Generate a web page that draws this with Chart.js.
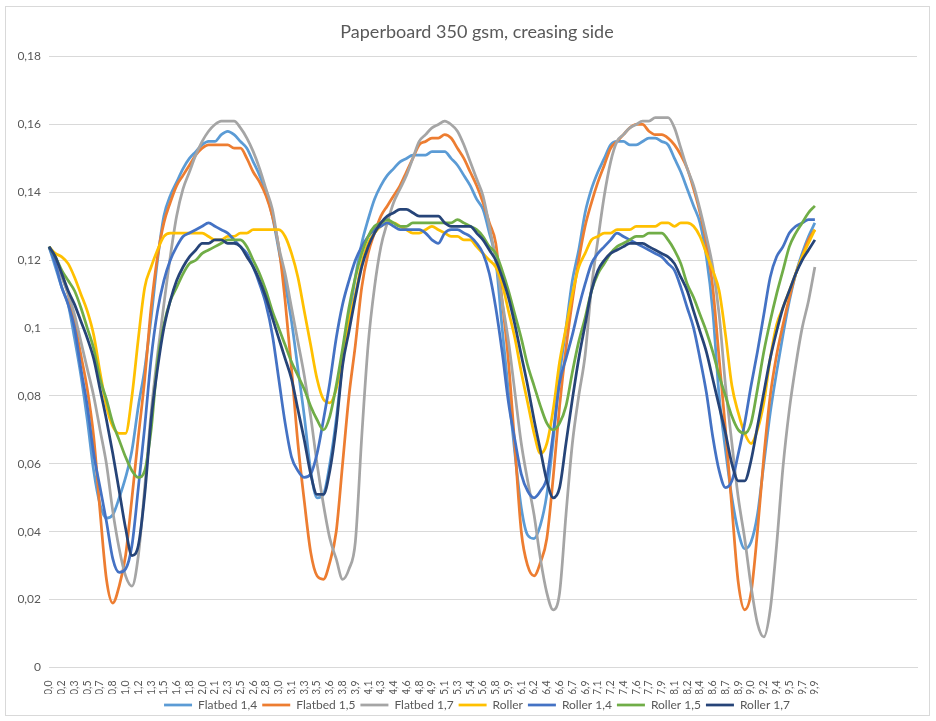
<!DOCTYPE html>
<html>
<head>
<meta charset="utf-8">
<title>Paperboard 350 gsm, creasing side</title>
<script src="https://cdn.jsdelivr.net/npm/chart.js@4.4.1/dist/chart.umd.min.js"></script>
<style>
  html, body { margin: 0; padding: 0; background: #fff; }
  #wrap { position: relative; width: 936px; height: 721px; }
  #frame { position: absolute; left: 5px; top: 6px; width: 925px; height: 710px;
           border: 1px solid #d9d9d9; box-sizing: border-box; pointer-events: none; }
</style>
</head>
<body>
<div id="wrap">
  <canvas id="crease" width="936" height="721"></canvas>
  <div id="frame"></div>
</div>
<script>
// tick labels on the category axis (one every second reading)
const tickLabels = ["0,0","0,2","0,3","0,5","0,7","0,8","1,0","1,2","1,3","1,5","1,6","1,8","2,0","2,1","2,3","2,5","2,6","2,8","3,0","3,1","3,3","3,5","3,6","3,8","3,9","4,1","4,3","4,4","4,6","4,8","4,9","5,1","5,3","5,4","5,6","5,8","5,9","6,1","6,2","6,4","6,6","6,7","6,9","7,1","7,2","7,4","7,6","7,7","7,9","8,1","8,2","8,4","8,6","8,7","8,9","9,0","9,2","9,4","9,5","9,7","9,9"];

const seriesNames = ["Flatbed 1,4", "Flatbed 1,5", "Flatbed 1,7", "Roller", "Roller 1,4", "Roller 1,5", "Roller 1,7"];

// readings, 121 per series
const flatbed14 = [
  .124,.118,.112,.107,.097,.086,.073,.058,.048,.044,
  .045,.050,.056,.064,.077,.088,.103,.120,.133,.139,
  .143,.147,.150,.152,.154,.155,.155,.157,.158,.157,
  .155,.153,.149,.145,.140,.133,.123,.113,.102,.088,
  .074,.058,.050,.051,.060,.073,.090,.103,.115,.125,
  .132,.138,.142,.145,.147,.149,.150,.151,.151,.151,
  .152,.152,.152,.150,.148,.145,.142,.138,.135,.128,
  .120,.100,.081,.063,.047,.039,.038,.042,.051,.067,
  .086,.100,.114,.123,.134,.141,.146,.150,.154,.155,
  .155,.154,.154,.155,.156,.156,.155,.154,.150,.146,
  .141,.136,.131,.121,.105,.080,.064,.050,.040,.035,
  .037,.045,.060,.075,.087,.098,.108,.116,.122,.127,
  .131];
const flatbed15 = [
  .124,.121,.116,.110,.102,.092,.082,.068,.046,.026,
  .019,.024,.033,.050,.068,.085,.106,.121,.131,.137,
  .142,.145,.148,.151,.153,.154,.154,.154,.154,.153,
  .153,.150,.146,.143,.139,.133,.124,.108,.088,.066,
  .049,.034,.027,.026,.031,.040,.060,.080,.095,.112,
  .122,.128,.133,.136,.139,.142,.146,.150,.154,.155,
  .156,.156,.157,.156,.153,.150,.146,.142,.137,.131,
  .125,.108,.090,.065,.040,.030,.027,.031,.038,.056,
  .077,.094,.108,.120,.130,.137,.143,.148,.153,.155,
  .157,.159,.160,.160,.158,.157,.157,.156,.154,.151,
  .147,.141,.134,.125,.112,.091,.070,.047,.025,.017,
  .022,.040,.062,.080,.092,.101,.109,.116,.121,.126,
  .129];
const flatbed17 = [
  .124,.120,.115,.110,.104,.096,.088,.080,.070,.060,
  .046,.035,.027,.024,.033,.053,.075,.092,.107,.121,
  .133,.141,.146,.151,.155,.158,.160,.161,.161,.161,
  .159,.156,.152,.147,.141,.135,.124,.116,.106,.096,
  .086,.074,.060,.048,.038,.032,.026,.029,.037,.068,
  .095,.112,.124,.131,.137,.141,.145,.150,.155,.157,
  .159,.160,.161,.160,.158,.154,.149,.144,.139,.130,
  .120,.108,.096,.081,.066,.055,.045,.032,.022,.017,
  .022,.045,.066,.080,.092,.112,.126,.139,.149,.155,
  .157,.159,.160,.161,.161,.162,.162,.162,.159,.153,
  .147,.142,.135,.127,.118,.104,.083,.066,.050,.038,
  .024,.013,.009,.017,.036,.059,.076,.089,.100,.108,
  .118];
const roller = [
  .124,.122,.121,.119,.115,.110,.105,.098,.087,.077,
  .071,.069,.069,.080,.097,.112,.118,.123,.127,.128,
  .128,.128,.128,.128,.128,.127,.126,.126,.127,.127,
  .128,.128,.129,.129,.129,.129,.129,.127,.122,.115,
  .105,.095,.085,.079,.078,.082,.092,.102,.110,.119,
  .125,.128,.130,.131,.131,.130,.129,.128,.128,.129,
  .130,.129,.128,.127,.127,.126,.126,.124,.122,.120,
  .118,.113,.105,.097,.087,.078,.069,.063,.066,.076,
  .090,.100,.110,.118,.122,.126,.127,.128,.128,.129,
  .129,.129,.130,.130,.130,.130,.131,.131,.130,.131,
  .131,.130,.127,.122,.117,.111,.098,.083,.075,.069,
  .066,.070,.078,.091,.101,.106,.111,.116,.121,.125,
  .129];
const roller14 = [
  .124,.119,.112,.107,.100,.088,.077,.063,.053,.043,
  .032,.028,.029,.036,.053,.071,.091,.105,.114,.120,
  .124,.127,.128,.129,.130,.131,.130,.129,.128,.126,
  .124,.122,.118,.113,.107,.098,.085,.072,.062,.058,
  .056,.057,.063,.073,.084,.097,.107,.114,.120,.124,
  .127,.129,.130,.131,.130,.129,.129,.129,.129,.128,
  .126,.125,.128,.129,.129,.128,.127,.125,.122,.116,
  .106,.093,.078,.067,.057,.052,.050,.052,.056,.069,
  .084,.091,.098,.106,.113,.119,.122,.124,.126,.128,
  .127,.126,.125,.124,.123,.122,.121,.119,.117,.112,
  .106,.100,.091,.081,.068,.058,.053,.055,.063,.072,
  .083,.093,.104,.115,.121,.124,.128,.130,.131,.132,
  .132];
const roller15 = [
  .124,.121,.117,.114,.111,.106,.100,.094,.085,.079,
  .072,.067,.062,.058,.056,.058,.070,.090,.101,.108,
  .112,.116,.119,.120,.122,.123,.124,.125,.126,.126,
  .126,.124,.120,.116,.111,.105,.100,.095,.090,.086,
  .082,.077,.073,.070,.074,.083,.094,.106,.115,.122,
  .127,.130,.131,.132,.131,.130,.130,.131,.131,.131,
  .131,.131,.131,.131,.132,.131,.130,.129,.127,.124,
  .122,.117,.111,.104,.097,.089,.083,.077,.072,.070,
  .072,.077,.087,.096,.103,.111,.116,.119,.122,.124,
  .125,.126,.127,.127,.128,.128,.128,.126,.123,.119,
  .113,.109,.104,.099,.093,.086,.080,.074,.070,.069,
  .072,.082,.093,.102,.110,.117,.124,.128,.131,.134,
  .136];
const roller17 = [
  .124,.121,.116,.111,.107,.102,.097,.091,.082,.073,
  .063,.052,.041,.033,.036,.051,.073,.088,.100,.108,
  .114,.118,.121,.123,.125,.125,.126,.126,.125,.125,
  .124,.121,.118,.114,.109,.103,.097,.091,.085,.076,
  .067,.057,.051,.051,.058,.071,.089,.099,.109,.118,
  .124,.128,.131,.133,.134,.135,.135,.134,.133,.133,
  .133,.133,.131,.130,.130,.130,.130,.128,.126,.123,
  .120,.115,.109,.101,.092,.083,.073,.064,.055,.050,
  .053,.066,.079,.091,.101,.111,.117,.120,.122,.123,
  .124,.125,.125,.125,.124,.123,.122,.121,.119,.115,
  .111,.105,.099,.093,.085,.077,.069,.060,.055,.055,
  .061,.071,.081,.091,.099,.106,.111,.116,.120,.123,
  .126];

const seriesValues = [flatbed14, flatbed15, flatbed17, roller, roller14, roller15, roller17];
const seriesColors = ["#5b9bd5", "#ed7d31", "#a5a5a5", "#ffc000", "#4472c4", "#70ad47", "#264478"];

// category axis: every reading gets a slot, empty slots keep the axis running past 9,9 like the sheet did
const categories = [];
for (let k = 0; k < 69; k++) {
  categories.push(tickLabels[k] || "");
  if (k < 68) categories.push("");
}

const font = "Lato, 'Liberation Sans', sans-serif";

new Chart(document.getElementById("crease"), {
  type: "line",
  data: {
    labels: categories,
    datasets: seriesNames.map((name, i) => ({
      label: name,
      data: seriesValues[i],
      borderColor: seriesColors[i],
      backgroundColor: seriesColors[i],
      borderWidth: 2.75,
      pointRadius: 0,
      cubicInterpolationMode: "monotone",
      order: seriesNames.length - i,
    })),
  },
  options: {
    responsive: false,
    animation: false,
    layout: { padding: { left: 18, right: 0, top: 0, bottom: 0 } },
    plugins: {
      title: {
        display: true,
        text: "Paperboard 350 gsm, creasing side",
        color: "#595959",
        font: { family: font, size: 18, weight: "normal" },
        padding: { top: 21, bottom: 14 },
      },
      legend: {
        position: "bottom",
        labels: {
          usePointStyle: true,
          pointStyle: "line",
          pointStyleWidth: 28,
          color: "#595959",
          font: { family: font, size: 12 },
          padding: 5,
          sort: (a, b) => a.datasetIndex - b.datasetIndex,
        },
      },
      tooltip: { enabled: false },
    },
    scales: {
      x: {
        type: "category",
        offset: false,
        grid: { display: false },
        border: { display: true, color: "#d9d9d9" },
        ticks: {
          autoSkip: false,
          maxRotation: 90,
          minRotation: 90,
          padding: 5,
          color: "#595959",
          font: { family: font, size: 10.5 },
        },
        afterFit: (s) => { s.height = 26.5; },
      },
      y: {
        min: 0,
        max: 0.18,
        ticks: {
          stepSize: 0.02,
          padding: 8,
          color: "#595959",
          font: { family: font, size: 12 },
          callback: (v) => (v === 0 ? "0" : String(+v.toFixed(2)).replace(".", ",")),
        },
        grid: { color: "#d9d9d9", drawTicks: false },
        border: { display: false },
        afterFit: (s) => { s.width = 31; },
      },
      // empty strip on the right so the plot ends where the sheet's plot ends
      yRight: {
        position: "right",
        grid: { display: false },
        border: { display: false },
        ticks: { display: false },
        afterFit: (s) => { s.width = 19; },
      },
    },
  },
});
</script>
</body>
</html>
